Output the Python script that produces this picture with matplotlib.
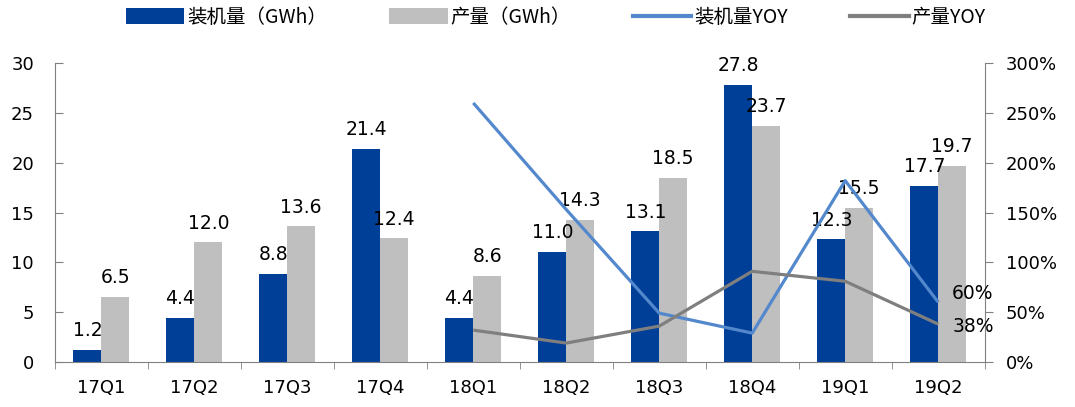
import matplotlib
matplotlib.use('Agg')
import matplotlib.pyplot as plt
from matplotlib.patches import Patch
from matplotlib.lines import Line2D
import numpy as np

plt.rcParams['font.family'] = ['DejaVu Sans', 'Noto Sans CJK SC']

# 数据
quarters = ['17Q1', '17Q2', '17Q3', '17Q4', '18Q1', '18Q2', '18Q3', '18Q4', '19Q1', '19Q2']
installed = [1.2, 4.4, 8.8, 21.4, 4.4, 11.0, 13.1, 27.8, 12.3, 17.7]
production = [6.5, 12.0, 13.6, 12.4, 8.6, 14.3, 18.5, 23.7, 15.5, 19.7]
yoy_quarters = ['18Q1', '18Q2', '18Q3', '18Q4', '19Q1', '19Q2']
installed_yoy = [260, 153, 49, 29, 182, 60]
production_yoy = [32, 19, 36, 91, 81, 38]

c_blue = '#003F98'
c_gray = '#BFBFBF'
c_line_blue = '#5388CC'
c_line_gray = '#7F7F7F'
c_axis = '#808080'

fig = plt.figure(figsize=(10.75, 4.07), dpi=100)
ax = fig.add_axes([0.051, 0.1106, 0.865, 0.7344])
ax2 = ax.twinx()

x = np.arange(len(quarters))
w = 0.3
ax.bar(x - w / 2, installed, w, color=c_blue, zorder=2)
ax.bar(x + w / 2, production, w, color=c_gray, zorder=2)

for i in range(len(quarters)):
    ax.annotate(f'{installed[i]:.1f}', (x[i] - w / 2, installed[i]), xytext=(0, 10),
                textcoords='offset points', ha='center', va='baseline', fontsize=13.5)
    ax.annotate(f'{production[i]:.1f}', (x[i] + w / 2, production[i]), xytext=(0, 10),
                textcoords='offset points', ha='center', va='baseline', fontsize=13.5)

xl = [quarters.index(q) for q in yoy_quarters]
ax2.plot(xl, installed_yoy, color=c_line_blue, lw=2.3, solid_capstyle='butt', zorder=3)
ax2.plot(xl, production_yoy, color=c_line_gray, lw=2.3, solid_capstyle='butt', zorder=3)
ax2.annotate(f'{installed_yoy[-1]}%', (xl[-1], installed_yoy[-1]), xytext=(10, 6),
             textcoords='offset points', ha='left', va='center', fontsize=13.5)
ax2.annotate(f'{production_yoy[-1]}%', (xl[-1], production_yoy[-1]), xytext=(10, -2),
             textcoords='offset points', ha='left', va='center', fontsize=13.5)

ax.set_xlim(-0.5, len(quarters) - 0.5)
ax.set_ylim(0, 30)
ax.set_yticks(range(0, 31, 5))
ax2.set_ylim(0, 300)
ax2.set_yticks(range(0, 301, 50))
ax2.set_yticklabels([f'{v}%' for v in range(0, 301, 50)])

ax.set_xticks(x)
ax.set_xticklabels(quarters)
ax.set_xticks(np.arange(-0.5, len(quarters), 1), minor=True)
ax.tick_params(axis='x', which='major', length=0, pad=12, labelsize=13)
ax.tick_params(axis='x', which='minor', length=5, direction='out', color=c_axis)
ax.tick_params(axis='y', length=6, direction='in', color=c_axis, pad=15, labelsize=13)
ax2.tick_params(axis='y', length=6, direction='out', color=c_axis, pad=9, labelsize=13)

for a in (ax, ax2):
    a.spines['top'].set_visible(False)
    for s in ('left', 'right', 'bottom'):
        a.spines[s].set_color(c_axis)
ax.spines['right'].set_visible(False)
ax2.spines['left'].set_visible(False)
ax2.spines['bottom'].set_visible(False)

handles = [
    Patch(facecolor=c_blue, label='装机量（GWh）'),
    Patch(facecolor=c_gray, label='产量（GWh）'),
    Line2D([], [], color=c_line_blue, lw=3, label='装机量YOY'),
    Line2D([], [], color=c_line_gray, lw=3, label='产量YOY'),
]
fig.legend(handles=handles, loc='center', bbox_to_anchor=(0.517, 0.957), ncol=4, frameon=False,
           prop={'family': ['Noto Sans CJK SC', 'DejaVu Sans'], 'size': 14},
           handlelength=3.0, handleheight=0.9, handletextpad=0.15, columnspacing=3.2)

fig.savefig('out.png', dpi=100)
